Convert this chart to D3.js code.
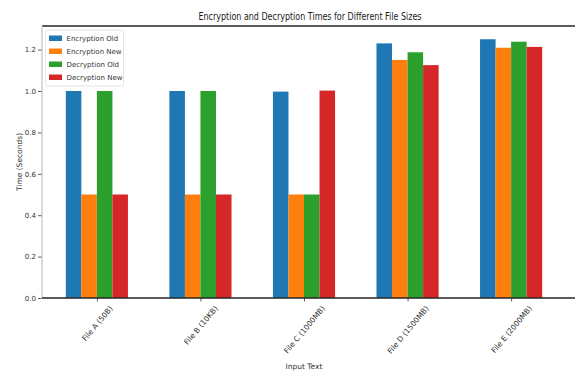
<!DOCTYPE html>
<html>
<head>
<meta charset="utf-8">
<script src="https://cdn.jsdelivr.net/npm/d3@7"></script>
<style>
  html, body { margin: 0; padding: 0; background: #fff; }
  svg { display: block; font-family: "DejaVu Sans", sans-serif; }
</style>
</head>
<body>
<svg id="chart" width="575" height="372"></svg>
<script>
// Files and timing series (seconds)
const categories = ["File A (50B)", "File B (10KB)", "File C (1000MB)", "File D (1500MB)", "File E (2000MB)"];
const seriesNames = ["Encryption Old", "Encryption New", "Decryption Old", "Decryption New"];
const encryptionOld = [1.0, 1.0, 0.997, 1.23, 1.25];
const encryptionNew = [0.5, 0.5, 0.5, 1.15, 1.209];
const decryptionOld = [1.0, 1.0, 0.5, 1.187, 1.238];
const decryptionNew = [0.5, 0.5, 1.002, 1.125, 1.213];
const colors = ["#1f77b4", "#ff7f0e", "#2ca02c", "#d62728"];
const yTicks = [0.0, 0.2, 0.4, 0.6, 0.8, 1.0, 1.2];

const series = [encryptionOld, encryptionNew, decryptionOld, decryptionNew];
const W = 575, H = 372;
const plotL = 42, plotR = 566, plotT = 26, plotB = 298;
const barW = 0.15;

const svg = d3.select("#chart");
const x = d3.scaleLinear().domain([-0.53, 4.53]).range([plotL, plotR]);
const y = d3.scaleLinear().domain([0, 1.314]).range([plotB, plotT]);

// Bars
series.forEach((vals, si) => {
  const off = (si - 1.5) * barW;
  svg.append("g").selectAll("rect").data(vals).join("rect")
    .attr("x", (d, i) => x(i + off - barW / 2))
    .attr("width", x(barW) - x(0))
    .attr("y", d => y(d))
    .attr("height", d => y(0) - y(d))
    .attr("fill", colors[si]);
});

// Frame
svg.append("line").attr("x1", plotL).attr("x2", W).attr("y1", plotT).attr("y2", plotT)
  .attr("stroke", "#262626").attr("stroke-width", 1.3);
svg.append("line").attr("x1", plotL).attr("x2", plotL).attr("y1", plotT).attr("y2", plotB)
  .attr("stroke", "#cfcfcf").attr("stroke-width", 1.5);

// Y axis
const yAxis = d3.axisLeft(y).tickValues(yTicks).tickFormat(d3.format(".1f")).tickSize(3.5).tickPadding(2);
const gy = svg.append("g").attr("transform", `translate(${plotL - 0.5},0)`).call(yAxis);
gy.select(".domain").remove();
gy.selectAll(".tick line").attr("stroke", "#333").attr("stroke-width", 0.8);
gy.selectAll(".tick text").attr("font-size", 7).attr("fill", "#333").attr("font-family", "DejaVu Sans");

// X axis
const xAxis = d3.axisBottom(x).tickValues(d3.range(categories.length)).tickFormat(i => categories[i]).tickSize(3.5);
const gx = svg.append("g").attr("transform", `translate(0,${plotB})`).call(xAxis);
gx.select(".domain").remove();
gx.selectAll(".tick line").attr("stroke", "#333").attr("stroke-width", 0.8);
const angle = 50 * Math.PI / 180;
gx.selectAll(".tick text")
  .attr("font-size", 7.5).attr("fill", "#333").attr("font-family", "DejaVu Sans")
  .attr("text-anchor", "middle").attr("dy", "0.35em")
  .each(function () {
    const t = d3.select(this);
    const L = this.getComputedTextLength();
    const h = 7.5;
    const cy = 6.5 + (L * Math.sin(angle) + h * Math.cos(angle)) / 2;
    t.attr("y", cy).attr("transform", `rotate(-50,0,${cy})`);
  });
svg.append("line").attr("x1", plotL).attr("x2", W).attr("y1", plotB).attr("y2", plotB)
  .attr("stroke", "#262626").attr("stroke-width", 1.3);

// Titles
svg.append("text").attr("x", 310).attr("y", 20).attr("text-anchor", "middle")
  .attr("font-size", 10).attr("fill", "#1a1a1a")
  .attr("textLength", 223).attr("lengthAdjust", "spacingAndGlyphs")
  .text("Encryption and Decryption Times for Different File Sizes");
svg.append("text").attr("x", 304).attr("y", 369).attr("text-anchor", "middle")
  .attr("font-size", 7.5).attr("fill", "#333").text("Input Text");
svg.append("text").attr("transform", `translate(22,${(plotT + plotB) / 2}) rotate(-90)`)
  .attr("text-anchor", "middle").attr("font-size", 7.5).attr("fill", "#333")
  .text("Time (Seconds)");

// Legend
const lg = svg.append("g").attr("transform", "translate(45.5,30)");
lg.append("rect").attr("width", 78).attr("height", 56).attr("rx", 2)
  .attr("fill", "#fff").attr("fill-opacity", 0.85).attr("stroke", "#ddd").attr("stroke-width", 0.8);
seriesNames.forEach((n, i) => {
  const ry = 8.3 + i * 13;
  lg.append("rect").attr("x", 3.5).attr("y", ry - 2.8).attr("width", 13).attr("height", 5.5).attr("fill", colors[i]);
  lg.append("text").attr("x", 21).attr("y", ry).attr("dy", "0.35em")
    .attr("font-size", 7).attr("fill", "#333").text(n);
});
</script>
</body>
</html>
